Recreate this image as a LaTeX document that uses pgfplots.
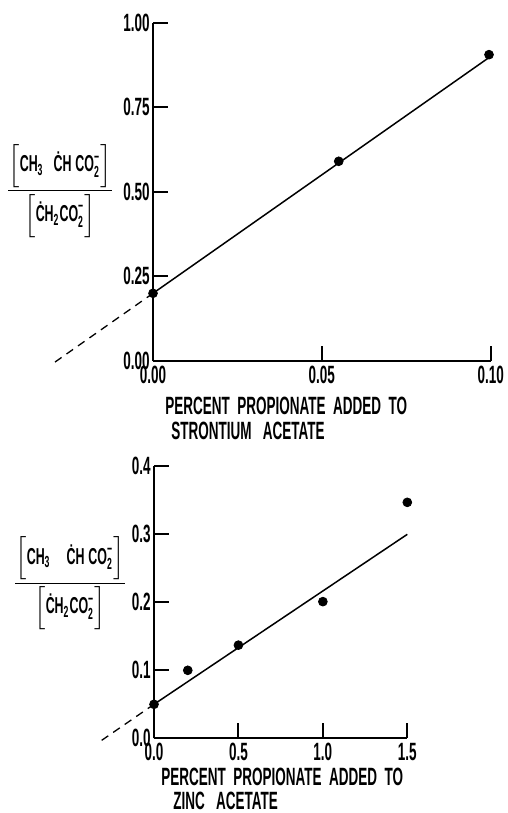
\documentclass[border=0pt]{standalone}
\usepackage{amsmath}
\usepackage{pgfplots}
\pgfplotsset{compat=1.18}
\usepackage{fontspec}
\setmainfont{Liberation Sans}[FakeStretch=0.54]
\pgfplotsset{myax/.style={
  scale only axis,
  axis x line*=bottom, axis y line*=left,
  axis line style={-, line width=1.1pt},
  tick align=inside, major tick length=7.5pt,
  tick style={line width=1pt, black},
  clip=false,
  scaled ticks=false,
  /pgf/number format/assume math mode=true,
  ticklabel style={font=\fontsize{12.5}{12.5}\selectfont\bfseries},
  yticklabel style={xshift=1.8pt},
  xticklabel style={yshift=1pt},
}}
\newcommand{\ratio}[1]{$\displaystyle\frac{\Big[\text{CH}_{\text{3}}\hspace{#1}\text{ĊH}\,\text{CO}_{\text{2}}^{\text{−}}\Big]}{\Big[\text{ĊH}_{\text{2}}\text{CO}_{\text{2}}^{\text{−}}\Big]}$}
\begin{document}
\begin{tikzpicture}
\useasboundingbox (0,0) rectangle (254pt,-406.5pt);
\begin{axis}[myax, at={(76.5pt,-180.5pt)}, anchor=south west,
  width=168.85pt, height=169.25pt,
  xmin=0, xmax=0.1, ymin=0, ymax=1,
  xtick={0,0.05,0.1}, ytick={0,0.25,0.5,0.75,1},
  xticklabel style={/pgf/number format/fixed, /pgf/number format/fixed zerofill, /pgf/number format/precision=2},
  yticklabel style={/pgf/number format/fixed, /pgf/number format/fixed zerofill, /pgf/number format/precision=2}]
\addplot[black, line width=0.65pt, dash pattern=on 4pt off 3pt] coordinates {(-0.029,-0.003) (0,0.20)};
\addplot[black, line width=0.75pt] coordinates {(0,0.20) (0.1,0.90)};
\addplot[black, only marks, mark=*, mark size=2.2pt] coordinates {(0,0.20) (0.055,0.59) (0.0995,0.905)};
\end{axis}
\begin{axis}[myax, at={(77pt,-369.15pt)}, anchor=south west,
  width=126.65pt, height=136pt,
  xmin=0, xmax=1.5, ymin=0, ymax=0.4,
  xtick={0,0.5,1,1.5}, ytick={0,0.1,0.2,0.3,0.4},
  xticklabel style={/pgf/number format/fixed, /pgf/number format/fixed zerofill, /pgf/number format/precision=1},
  yticklabel style={/pgf/number format/fixed, /pgf/number format/fixed zerofill, /pgf/number format/precision=1}]
\addplot[black, line width=0.65pt, dash pattern=on 4pt off 3pt] coordinates {(-0.31,-0.003) (0,0.05)};
\addplot[black, line width=0.75pt] coordinates {(0,0.05) (1.5,0.30)};
\addplot[black, only marks, mark=*, mark size=2.2pt] coordinates {(0,0.05) (0.2,0.10) (0.5,0.137) (1.0,0.201) (1.5,0.347)};
\end{axis}
\node[anchor=north west, align=left, inner sep=0pt, font=\fontsize{12.5}{12.5}\selectfont\bfseries] at (82.5pt,-198.5pt) {PERCENT\ \ PROPIONATE\ \ ADDED\ \ TO\\\hspace{3pt}STRONTIUM\ \ \ ACETATE};
\node[anchor=north west, align=left, inner sep=0pt, font=\fontsize{12.5}{12}\selectfont\bfseries] at (80.5pt,-384pt) {PERCENT\ \ PROPIONATE\ \ ADDED\ \ TO\\\hspace{6pt}ZINC\ \ \ ACETATE};
\node[inner sep=0pt, font=\fontsize{11.5}{12}\selectfont\bfseries] at (30pt,-95.35pt) {\ratio{5pt}};
\node[inner sep=0pt, font=\fontsize{11.5}{12}\selectfont\bfseries] at (35pt,-291.5pt) {\ratio{8pt}};
\end{tikzpicture}
\end{document}
